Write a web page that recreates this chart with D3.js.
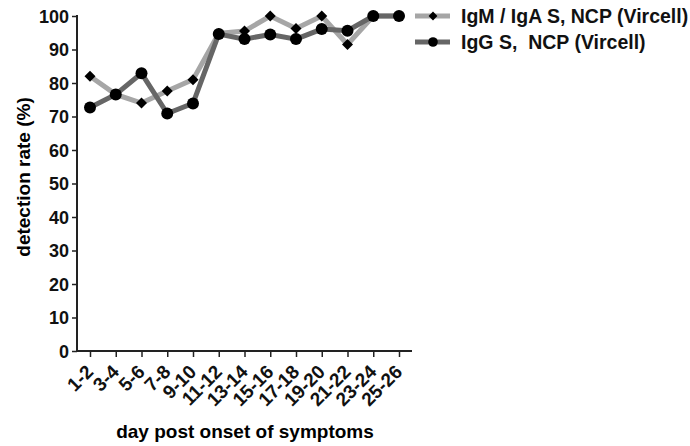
<!DOCTYPE html>
<meta charset="utf-8">
<script src="https://d3js.org/d3.v7.min.js"></script>
<style>
  body { margin: 0; background: #fff; }
  text { font-family: "Liberation Sans", Arial, sans-serif; font-weight: bold; }
</style>
<div id="my_dataviz"></div>
<script>
// data
var days = ["1-2","3-4","5-6","7-8","9-10","11-12","13-14","15-16","17-18","19-20","21-22","23-24","25-26"];
var igmIga = [82, 76.6, 74, 77.6, 81, 94.8, 95.5, 100, 96.3, 100, 91.5, 100, 100];
var igg = [72.7, 76.6, 82.9, 70.9, 73.9, 94.6, 93.1, 94.5, 93.1, 96.1, 95.6, 100, 100];
var yTicks = [0,10,20,30,40,50,60,70,80,90,100];

var width = 690, height = 446;
var svg = d3.select("#my_dataviz").append("svg")
    .attr("width", width).attr("height", height);

// scales
var x = d3.scalePoint().domain(days).range([90, 399]);
var y = d3.scaleLinear().domain([0, 100]).range([351, 16]);

// y axis
var yAxis = svg.append("g")
    .attr("transform", "translate(77,0)")
    .call(d3.axisLeft(y).tickValues(yTicks).tickSize(5).tickPadding(3));
yAxis.select(".domain").attr("stroke", "#222").attr("stroke-width", 2).attr("d", "M0,352V15");
yAxis.selectAll(".tick line").attr("stroke", "#222").attr("stroke-width", 1.5);
yAxis.selectAll(".tick text").style("font-size", "18px").attr("fill", "#111").attr("dy", "0.36em");

// x axis
var xAxis = svg.append("g")
    .attr("transform", "translate(0,351)")
    .call(d3.axisBottom(x).tickSize(6).tickSizeOuter(0));
xAxis.select(".domain").attr("stroke", "#222").attr("stroke-width", 2).attr("d", "M76,0H412");
xAxis.selectAll(".tick line").attr("stroke", "#222").attr("stroke-width", 1.5);
xAxis.selectAll(".tick text")
    .style("font-size", "19px").attr("fill", "#111")
    .attr("text-anchor", "end")
    .attr("x", 0).attr("y", 0).attr("dy", 0)
    .attr("transform", "translate(4,22) rotate(-45)");

// axis labels
svg.append("text")
    .attr("transform", "translate(30,177) rotate(-90)")
    .attr("text-anchor", "middle")
    .style("font-size", "19px")
    .text("detection rate (%)");
svg.append("text")
    .attr("x", 245).attr("y", 438)
    .attr("text-anchor", "middle")
    .style("font-size", "19px")
    .text("day post onset of symptoms");

var line = d3.line()
    .x(function(d, i) { return x(days[i]); })
    .y(function(d) { return y(d); });

var series = [
  {name: "IgM / IgA S, NCP (Vircell)", values: igmIga, color: "#a6a6a6", marker: "diamond"},
  {name: "IgG S,  NCP (Vircell)", values: igg, color: "#666666", marker: "circle"}
];

function drawMarker(g, type, cx, cy, scale) {
  if (type === "circle") {
    g.append("circle").attr("cx", cx).attr("cy", cy).attr("r", 6 * scale).attr("fill", "#000");
  } else {
    var s = 5.5 * scale;
    g.append("path")
      .attr("d", "M" + cx + "," + (cy - s) + "L" + (cx + s) + "," + cy + "L" + cx + "," + (cy + s) + "L" + (cx - s) + "," + cy + "Z")
      .attr("fill", "#000");
  }
}

series.forEach(function(s) {
  svg.append("path")
    .datum(s.values)
    .attr("fill", "none")
    .attr("stroke", s.color)
    .attr("stroke-width", 5)
    .attr("d", line);
});
series.forEach(function(s) {
  var g = svg.append("g");
  s.values.forEach(function(v, i) {
    drawMarker(g, s.marker, x(days[i]), y(v), 1);
  });
});

// legend
var legend = svg.selectAll(".legend")
  .data(series)
  .enter().append("g")
    .attr("class", "legend")
    .attr("transform", function(d, i) { return "translate(415," + (16 + i * 26) + ")"; });
legend.append("line")
  .attr("x1", 0).attr("x2", 35).attr("y1", 0).attr("y2", 0)
  .attr("stroke", function(d) { return d.color; })
  .attr("stroke-width", 5);
legend.each(function(d) {
  drawMarker(d3.select(this), d.marker, 18, 0, 0.8);
});
legend.append("text")
  .attr("x", 46).attr("y", 0).attr("dy", "0.36em")
  .style("font-size", "19.5px")
  .style("white-space", "pre")
  .attr("fill", "#111")
  .text(function(d) { return d.name; });
</script>
